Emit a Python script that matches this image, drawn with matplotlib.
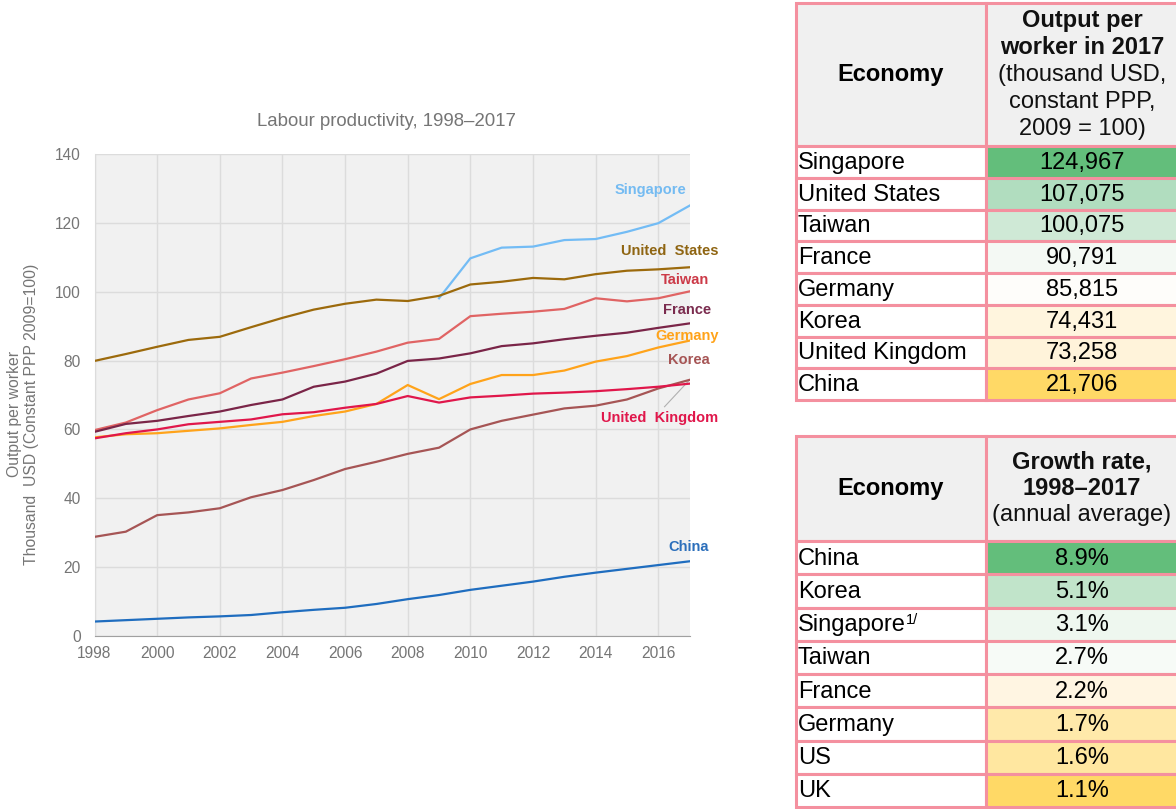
import matplotlib
matplotlib.use('Agg')
import numpy as np
import matplotlib.pyplot as plt
from matplotlib.patches import Rectangle

plt.rcParams['font.family'] = ['Liberation Sans', 'DejaVu Sans']

# --- data ---
years = list(range(1998, 2018))
nan = np.nan

singapore = [nan] * 11 + [98.1, 109.7, 112.8, 113.1, 115.0, 115.3, 117.4, 119.9, 125.0]
united_states = [79.9, 81.9, 84.0, 86.0, 86.9, 89.7, 92.4, 94.8, 96.5, 97.7,
                 97.3, 98.8, 102.1, 102.9, 104.0, 103.6, 105.1, 106.1, 106.5, 107.1]
taiwan = [59.8, 62.0, 65.6, 68.7, 70.5, 74.8, 76.5, 78.4, 80.4, 82.6,
          85.2, 86.3, 92.9, 93.6, 94.2, 95.0, 98.1, 97.2, 98.1, 100.1]
france = [59.3, 61.6, 62.5, 63.9, 65.2, 67.1, 68.7, 72.4, 73.9, 76.2,
          79.9, 80.6, 82.1, 84.2, 85.0, 86.2, 87.2, 88.1, 89.5, 90.8]
germany = [57.7, 58.6, 58.9, 59.6, 60.3, 61.3, 62.2, 63.9, 65.2, 67.4,
           72.9, 68.8, 73.2, 75.8, 75.8, 77.1, 79.7, 81.3, 83.8, 85.8]
korea = [28.8, 30.3, 35.1, 35.9, 37.1, 40.3, 42.4, 45.3, 48.5, 50.6,
         52.9, 54.7, 60.0, 62.5, 64.3, 66.1, 66.9, 68.7, 71.9, 74.4]
united_kingdom = [57.4, 58.9, 60.0, 61.5, 62.2, 62.9, 64.4, 65.0, 66.3, 67.4,
                  69.7, 67.8, 69.3, 69.8, 70.4, 70.7, 71.1, 71.7, 72.4, 73.3]
china = [4.2, 4.6, 5.0, 5.4, 5.7, 6.1, 6.9, 7.6, 8.2, 9.3,
         10.7, 11.9, 13.4, 14.6, 15.8, 17.2, 18.4, 19.5, 20.6, 21.7]

# table 1: output per worker in 2017
economies_2017 = ["Singapore", "United States", "Taiwan", "France", "Germany",
                  "Korea", "United Kingdom", "China"]
output_2017 = [124967, 107075, 100075, 90791, 85815, 74431, 73258, 21706]

# table 2: annual growth 1998-2017
economies_growth = ["China", "Korea", "Singapore", "Taiwan", "France",
                    "Germany", "US", "UK"]
growth_rate = [8.9, 5.1, 3.1, 2.7, 2.2, 1.7, 1.6, 1.1]

# --- styles ---
series = [
    ("Singapore", singapore, '#73bcf5', '#74bbf2', (2016.9, 129.5)),
    ("United  States", united_states, '#9c6a0c', '#8f6512', (2017.92, 111.8)),
    ("Taiwan", taiwan, '#e06464', '#cc3a48', (2017.63, 103.4)),
    ("France", france, '#7a2548', '#7a2b4e', (2017.7, 94.7)),
    ("Germany", germany, '#ffa31a', '#ffa31a', (2017.92, 87.1)),
    ("Korea", korea, '#a65555', '#a65555', (2017.63, 80.2)),
    ("United  Kingdom", united_kingdom, '#e0174b', '#e0174b', (2017.92, 63.3)),
    ("China", china, '#1f6dbf', '#2c6fbb', (2017.63, 25.8)),
]
fill_2017 = ['#63be7b', '#b1ddbf', '#cfe9d6', '#f4f9f4', '#fefdfa', '#fff5de', '#fff3da', '#ffd966']
fill_growth = ['#63be7b', '#c1e4ca', '#eef7ef', '#f7fbf7', '#fff5e2', '#ffe9aa', '#ffe7a0', '#ffd966']
border = '#f4909f'
head_fill = '#f0f0f0'
grey_txt = '#757575'

W, H = 1176, 809
fig = plt.figure(figsize=(W / 100, H / 100), dpi=100)

# --- line chart ---
ax = fig.add_axes([94.5 / W, (H - 636) / H, (689.6 - 94.5) / W, (636 - 154) / H])
ax.set_facecolor('#f1f1f1')
for name, vals, col, lcol, (lx, ly) in series:
    ax.plot(years, vals, color=col, lw=1.6, zorder=3)
    ax.text(lx, ly, name, color=lcol, fontsize=10.5, fontweight='bold',
            ha='right', va='center', clip_on=False, zorder=4)
# leader line for the UK label
ax.plot([2016.2, years[-1]], [66.6, korea[-1]], color='#b0b0b0', lw=0.8, zorder=2)

ax.set_xlim(1998, 2017)
ax.set_ylim(0, 140)
ax.set_xticks(range(1998, 2017, 2))
ax.set_yticks(range(0, 141, 20))
ax.grid(True, color='#dcdcdc', lw=1)
ax.set_axisbelow(True)
ax.tick_params(length=0, labelsize=11.2, labelcolor=grey_txt)
ax.tick_params(axis='y', pad=10)
ax.tick_params(axis='x', pad=7)
for side in ['top', 'right']:
    ax.spines[side].set_visible(False)
ax.spines['left'].set_color('#dcdcdc')
ax.spines['bottom'].set_color('#a0a0a0')
ax.set_title("Labour productivity, 1998\u20132017", color=grey_txt, fontsize=13.4, pad=20, x=0.49)
ax.set_ylabel("Output per worker\nThousand  USD (Constant PPP 2009=100)",
              color=grey_txt, fontsize=11.3, linespacing=1.1)
ax.yaxis.set_label_coords(-0.094, 0.46)

# --- tables ---
tab = fig.add_axes([0, 0, 1, 1])
tab.set_xlim(0, W)
tab.set_ylim(H, 0)
tab.axis('off')

col_x = [796, 986, 1178]


def draw_table(top, head_bottom, row_h, header_lines, names, values, fills, notes=None):
    cells = [(top, head_bottom - top, head_fill, head_fill)]
    for i in range(len(names)):
        y0 = head_bottom + i * row_h
        cells.append((y0, row_h, 'white', fills[i]))
    for y0, h, f1, f2 in cells:
        tab.add_patch(Rectangle((col_x[0], y0), col_x[1] - col_x[0], h,
                                facecolor=f1, edgecolor=border, lw=2.2))
        tab.add_patch(Rectangle((col_x[1], y0), col_x[2] - col_x[1], h,
                                facecolor=f2, edgecolor=border, lw=2.2))
    xc1 = (col_x[0] + col_x[1]) / 2
    xc2 = (col_x[1] + col_x[2]) / 2
    ym = (top + head_bottom) / 2
    tab.text(xc1, ym, "Economy", fontsize=17, fontweight='bold', ha='center', va='center')
    n = len(header_lines)
    step = 27
    for j, (line, bold) in enumerate(header_lines):
        yy = ym + (j - (n - 1) / 2) * step
        tab.text(xc2, yy, line, fontsize=17, fontweight='bold' if bold else 'normal',
                 ha='center', va='center', color='#111111')
    for i, (nm, v) in enumerate(zip(names, values)):
        yy = head_bottom + (i + 0.5) * row_h + 1
        t = tab.text(col_x[0] + 2, yy, nm, fontsize=17, ha='left', va='center')
        if notes and nm in notes:
            # small footnote marker after the name
            tab.annotate(notes[nm], xy=(1, 0.75), xycoords=t, fontsize=10.5,
                         ha='left', va='center')
        tab.text(xc2, yy, v, fontsize=17, ha='center', va='center')


draw_table(3, 146, 31.75,
           [("Output per", True), ("worker in 2017", True), ("(thousand USD,", False),
            ("constant PPP,", False), ("2009 = 100)", False)],
           economies_2017, [f"{v:,}" for v in output_2017], fill_2017)
draw_table(436, 541, 33.25,
           [("Growth rate,", True), ("1998\u20132017", True), ("(annual average)", False)],
           economies_growth, [f"{v:.1f}%" for v in growth_rate], fill_growth,
           notes={"Singapore": "1/"})

fig.savefig("out.png", dpi=100)
